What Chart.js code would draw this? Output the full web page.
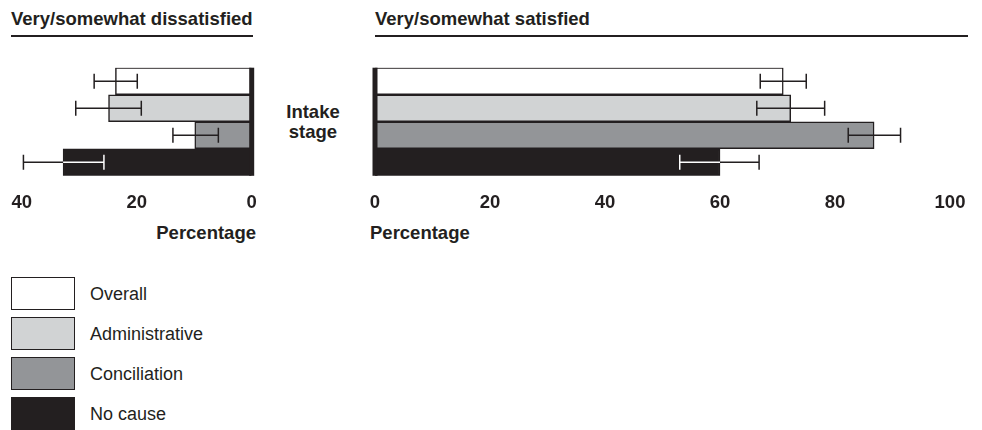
<!DOCTYPE html>
<html>
<head>
<meta charset="utf-8">
<script src="https://cdn.jsdelivr.net/npm/chart.js@4"></script>
<style>
  html,body{margin:0;padding:0;background:#fff;width:982px;height:430px;overflow:hidden;font-family:"Liberation Sans",Arial,sans-serif;color:#231f20;}
  .abs{position:absolute;}
  .ttl{font-weight:bold;font-size:18.5px;white-space:nowrap;line-height:20px;}
  .rule{height:1.5px;background:#231f20;}
  .lgbox{position:absolute;left:11px;width:62px;height:31px;border:1.5px solid #231f20;}
  .lgtxt{position:absolute;left:90px;font-size:18px;line-height:20px;white-space:nowrap;}
</style>
</head>
<body>
<div class="abs ttl" id="tL" style="left:11px;top:9px;"></div>
<div class="abs rule" style="left:11px;top:35px;width:242px;"></div>
<div class="abs ttl" id="tR" style="left:375px;top:9px;"></div>
<div class="abs rule" style="left:375px;top:35px;width:593px;"></div>
<div class="abs ttl" id="stage" style="left:263px;top:102px;width:100px;text-align:center;"></div>
<div class="abs ttl" id="pL" style="left:100px;width:156px;top:223px;text-align:right;"></div>
<div class="abs ttl" id="pR" style="left:370px;top:223px;"></div>
<canvas id="cL" class="abs" style="left:0;top:0;" width="270" height="235"></canvas>
<canvas id="cR" class="abs" style="left:340px;top:0;" width="642" height="235"></canvas>
<div id="legend"></div>
<script>
// ---- data ----
const categories = ['Overall', 'Administrative', 'Conciliation', 'No cause'];
const dissatisfied = [23.7, 24.9, 9.9, 32.8];
const dissatisfiedLow = [19.9, 19.2, 5.8, 25.7];
const dissatisfiedHigh = [27.4, 30.6, 13.7, 39.7];
const satisfied = [71.0, 72.3, 86.8, 60.0];
const satisfiedLow = [67.0, 66.4, 82.3, 53.0];
const satisfiedHigh = [75.0, 78.2, 91.4, 66.8];
const leftTicks = [0, 20, 40];
const rightTicks = [0, 20, 40, 60, 80, 100];
const titleLeft = 'Very/somewhat dissatisfied';
const titleRight = 'Very/somewhat satisfied';
const stageLabel = ['Intake', 'stage'];
const axisTitle = 'Percentage';

const fills = ['#ffffff', '#d1d3d4', '#939598', '#231f20'];
const ink = '#231f20';

document.getElementById('tL').textContent = titleLeft;
document.getElementById('tR').textContent = titleRight;
document.getElementById('pL').textContent = axisTitle;
document.getElementById('pR').textContent = axisTitle;
document.getElementById('stage').innerHTML = stageLabel.join('<br>');

const lg = document.getElementById('legend');
categories.forEach((c, i) => {
  const b = document.createElement('div');
  b.className = 'lgbox';
  b.style.top = (277 + i * 40) + 'px';
  b.style.background = fills[i];
  lg.appendChild(b);
  const t = document.createElement('div');
  t.className = 'lgtxt';
  t.style.top = (284 + i * 40) + 'px';
  t.textContent = c;
  lg.appendChild(t);
});

const FONT = {family: "'Liberation Sans', Arial, sans-serif", size: 18.5, weight: 'bold'};

function makePlugin(low, high) {
  return {
    id: 'errs',
    afterDatasetsDraw(chart) {
      const ctx = chart.ctx, xs = chart.scales.x, ys = chart.scales.y, a = chart.chartArea;
      const meta = chart.getDatasetMeta(0);
      // zero line
      const x0 = xs.getPixelForValue(0);
      ctx.save();
      ctx.strokeStyle = ink; ctx.lineWidth = 5;
      ctx.beginPath(); ctx.moveTo(x0, a.top); ctx.lineTo(x0, a.bottom); ctx.stroke();
      ctx.restore();
      const draw = (i, color) => {
        const y = ys.getPixelForValue(i);
        const xa = xs.getPixelForValue(low[i]), xb = xs.getPixelForValue(high[i]);
        ctx.strokeStyle = color; ctx.lineWidth = 1.5;
        ctx.beginPath();
        ctx.moveTo(xa, y); ctx.lineTo(xb, y);
        ctx.moveTo(xa, y - 7.5); ctx.lineTo(xa, y + 7.5);
        ctx.moveTo(xb, y - 7.5); ctx.lineTo(xb, y + 7.5);
        ctx.stroke();
      };
      categories.forEach((c, i) => {
        ctx.save();
        draw(i, ink);
        ctx.restore();
        if (fills[i] === '#231f20') {
          const el = meta.data[i];
          const l = Math.min(el.x, el.base), r = Math.max(el.x, el.base);
          ctx.save();
          ctx.beginPath();
          ctx.rect(l, el.y - el.height / 2, r - l, el.height);
          ctx.clip();
          draw(i, '#ffffff');
          ctx.restore();
        }
      });
    }
  };
}

function makeChart(id, values, low, high, max, ticks, reverse, pad) {
  return new Chart(document.getElementById(id), {
    type: 'bar',
    data: {
      labels: categories,
      datasets: [{
        data: values,
        backgroundColor: fills,
        borderColor: ink,
        borderWidth: 1.5,
        categoryPercentage: 1,
        barPercentage: 1
      }]
    },
    options: {
      indexAxis: 'y',
      responsive: false,
      animation: false,
      events: [],
      layout: {padding: pad},
      plugins: {legend: {display: false}, tooltip: {enabled: false}},
      scales: {
        y: {display: false},
        x: {
          reverse: reverse,
          min: 0, max: max,
          afterBuildTicks(s) { s.ticks = ticks.map(v => ({value: v})); },
          grid: {display: false, drawTicks: false},
          border: {display: false},
          ticks: {font: FONT, color: ink, padding: 16, maxRotation: 0, autoSkip: false}
        }
      }
    },
    plugins: [makePlugin(low, high)]
  });
}

makeChart('cL', dissatisfied, dissatisfiedLow, dissatisfiedHigh, 40, leftTicks, true,
  {left: 21.7, right: 18.3, top: 67.7, bottom: 5});
makeChart('cR', satisfied, satisfiedLow, satisfiedHigh, 100, rightTicks, false,
  {left: 35, right: 32, top: 67.7, bottom: 5});
</script>
</body>
</html>
